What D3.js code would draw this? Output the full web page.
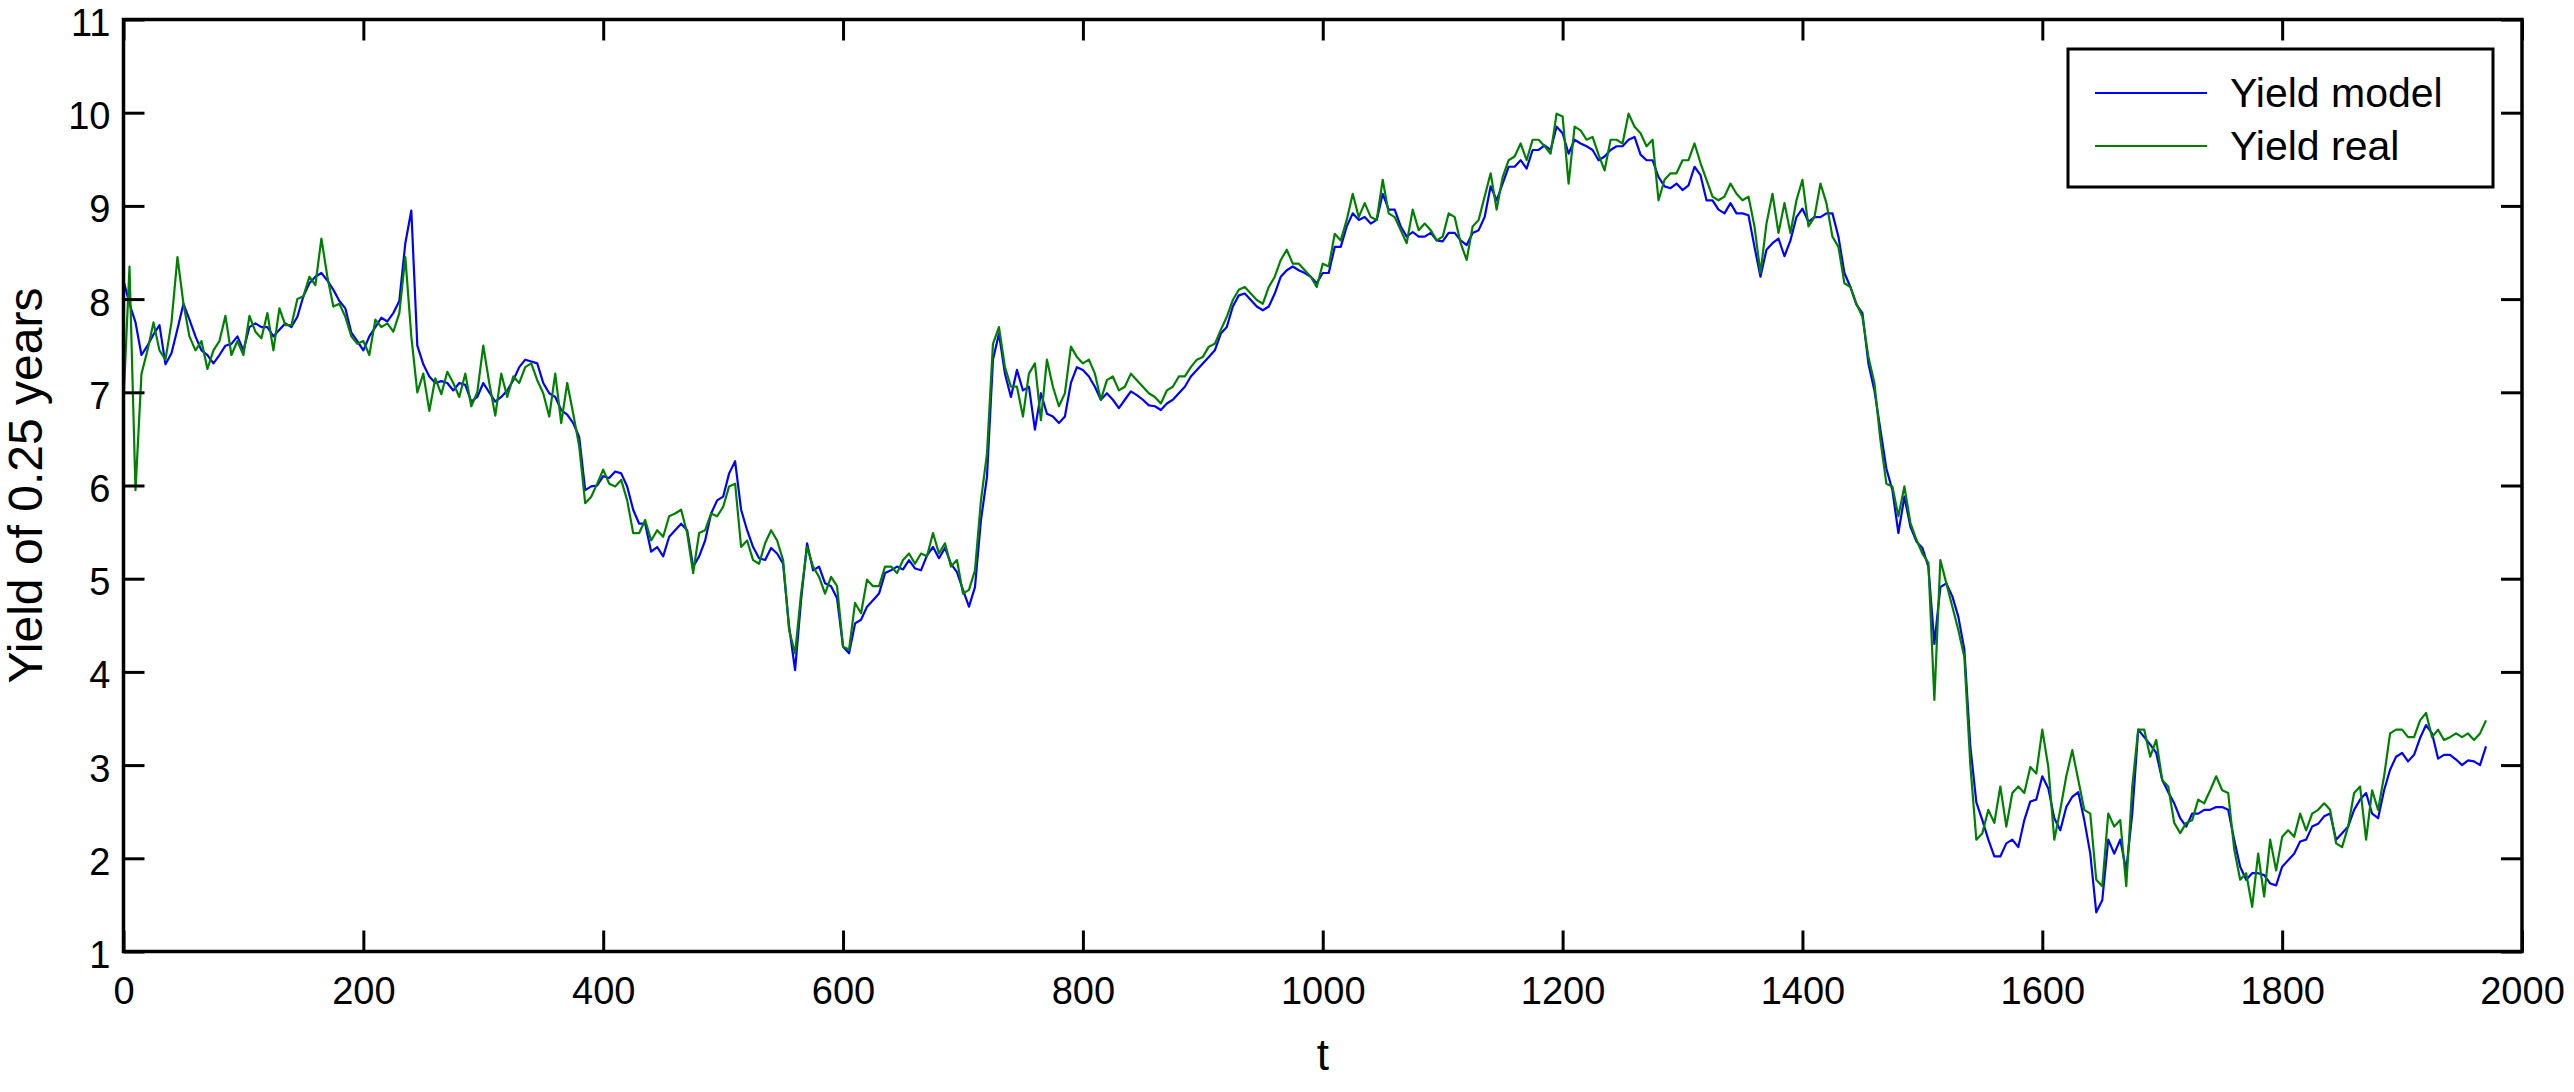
<!DOCTYPE html>
<html>
<head>
<meta charset="utf-8">
<script src="https://cdn.jsdelivr.net/npm/d3@7"></script>
<style>
  html, body { margin: 0; padding: 0; background: #fff; }
  svg { display: block; }
  text { font-family: "Liberation Sans", Arial, Helvetica, sans-serif; fill: #000; }
</style>
</head>
<body>
<svg id="chart" width="2574" height="1092"></svg>
<script>
// ---- data (t sampled every 5 steps) ----
const tStep = 5;
const seriesNames = ["Yield model", "Yield real"];
const xTicks = [0, 200, 400, 600, 800, 1000, 1200, 1400, 1600, 1800, 2000];
const yTicks = [1, 2, 3, 4, 5, 6, 7, 8, 9, 10, 11];

const yieldModel = [
  8.2, 7.95, 7.75, 7.4, 7.5, 7.62, 7.72, 7.3, 7.42, 7.68,
  7.95, 7.78, 7.6, 7.45, 7.4, 7.31, 7.4, 7.5, 7.52, 7.6,
  7.45, 7.7, 7.74, 7.7, 7.7, 7.6, 7.67, 7.74, 7.7, 7.81,
  8.03, 8.17, 8.24, 8.28, 8.2, 8.1, 7.98, 7.9, 7.64, 7.55,
  7.45, 7.6, 7.7, 7.8, 7.76, 7.85, 7.98, 8.6, 8.95, 7.5,
  7.3, 7.17, 7.1, 7.12, 7.1, 7.02, 7.1, 7.08, 6.9, 6.95,
  7.1, 7.0, 6.9,
  6.95, 7.02, 7.13, 7.27, 7.35, 7.33, 7.31, 7.1, 6.99, 6.95,
  6.81, 6.76, 6.67, 6.52, 5.95, 5.99, 6.0, 6.1, 6.08, 6.15,
  6.13, 5.99, 5.74, 5.59, 5.59, 5.29, 5.34, 5.24, 5.45, 5.52,
  5.59, 5.52, 5.13, 5.24, 5.41, 5.7, 5.84, 5.88, 6.13, 6.26,
  5.74, 5.52, 5.34, 5.22, 5.2, 5.33, 5.27, 5.16, 4.49, 4.02,
  4.77, 5.38, 5.09, 5.13, 4.95, 4.92, 4.79, 4.27, 4.2, 4.52,
  4.56, 4.7, 4.77, 4.84, 5.06, 5.09, 5.13, 5.1,
  5.2, 5.11, 5.09, 5.25, 5.34, 5.22, 5.33, 5.16, 5.07, 4.88,
  4.7, 4.91, 5.63, 6.09, 7.35, 7.63, 7.2, 6.95, 7.24, 7.02,
  7.06, 6.6, 6.99, 6.77, 6.74, 6.67, 6.74, 7.1, 7.27, 7.24,
  7.17, 7.06, 6.92, 6.99, 6.92, 6.83, 6.92, 7.01, 6.97, 6.92,
  6.86, 6.85, 6.81, 6.88, 6.92, 6.99, 7.06, 7.17, 7.24, 7.31,
  7.38, 7.45, 7.63, 7.7, 7.92, 8.04, 8.06, 7.99, 7.92, 7.88,
  7.92, 8.06, 8.24, 8.31, 8.35, 8.31, 8.28, 8.24, 8.17,
  8.28, 8.28, 8.56, 8.56, 8.78, 8.92, 8.85, 8.88, 8.81, 8.85,
  9.13, 8.96, 8.96, 8.78, 8.67, 8.72, 8.67, 8.67, 8.71, 8.63,
  8.62, 8.71, 8.71, 8.63, 8.58, 8.71, 8.74, 8.88, 9.21, 9.06,
  9.24, 9.42, 9.42, 9.49, 9.4, 9.6, 9.6, 9.65, 9.6, 9.85,
  9.78, 9.56, 9.71, 9.67, 9.64, 9.6, 9.49, 9.53, 9.6, 9.64,
  9.64, 9.71, 9.74, 9.55, 9.49, 9.49, 9.31, 9.21, 9.19, 9.24,
  9.17, 9.22, 9.42, 9.33, 9.06, 9.06, 8.96, 8.92,
  9.03, 8.92, 8.92, 8.9, 8.56, 8.24, 8.53, 8.6, 8.65, 8.46,
  8.63, 8.88, 8.97, 8.83, 8.88, 8.88, 8.92, 8.92, 8.67, 8.28,
  8.13, 7.94, 7.85, 7.31, 7.02, 6.6, 6.18, 5.95, 5.49, 5.88,
  5.56, 5.4, 5.33, 5.13, 4.3, 4.91, 4.95, 4.81, 4.59, 4.24,
  3.2, 2.6, 2.41, 2.2, 2.02, 2.02, 2.16, 2.2, 2.12, 2.41,
  2.61, 2.63, 2.88, 2.75, 2.43, 2.3, 2.55, 2.66, 2.71, 2.41,
  2.05, 1.42, 1.55, 2.2, 2.05, 2.2, 1.87, 2.48, 3.38, 3.3,
  3.22, 3.13, 2.84, 2.71, 2.59, 2.43, 2.34, 2.48, 2.48, 2.52,
  2.52, 2.55, 2.55, 2.52, 2.2,
  1.91, 1.77, 1.84, 1.84, 1.82, 1.73, 1.71, 1.91, 1.98, 2.05,
  2.18, 2.2, 2.34, 2.37, 2.45, 2.48, 2.2, 2.27, 2.34, 2.52,
  2.63, 2.7, 2.48, 2.43, 2.73, 2.95, 3.09, 3.13, 3.04, 3.11,
  3.29, 3.43, 3.34, 3.07, 3.11, 3.11, 3.06, 3.0, 3.05, 3.04,
  3.0, 3.2
];

const yieldReal = [
  6.9, 8.35, 5.95, 7.2, 7.45, 7.75, 7.45, 7.35, 7.75, 8.45,
  7.95, 7.6, 7.45, 7.55, 7.25, 7.45, 7.55, 7.82, 7.4, 7.55,
  7.4, 7.82, 7.65, 7.58, 7.85, 7.45, 7.9, 7.72, 7.72, 8.0,
  8.03, 8.24, 8.15, 8.65, 8.24, 7.92, 7.95, 7.81, 7.6, 7.52,
  7.55, 7.4, 7.78, 7.7, 7.74, 7.65, 7.85, 8.45, 7.6, 7.0,
  7.2, 6.8, 7.15, 6.98, 7.22, 7.1, 6.95, 7.2, 6.85, 7.0,
  7.5, 7.1, 6.75,
  7.2, 6.95, 7.17, 7.1, 7.27, 7.31, 7.13, 6.99, 6.74, 7.2,
  6.67, 7.1, 6.77, 6.42, 5.81, 5.88, 6.02, 6.17, 6.02, 5.99,
  6.06, 5.84, 5.49, 5.49, 5.63, 5.41, 5.52, 5.45, 5.67, 5.7,
  5.74, 5.49, 5.06, 5.49, 5.52, 5.7, 5.67, 5.77, 5.99, 6.02,
  5.34, 5.41, 5.2, 5.16, 5.38, 5.52, 5.41, 5.2, 4.45, 4.2,
  4.84, 5.34, 5.13, 5.02, 4.84, 5.02, 4.92, 4.27, 4.24, 4.74,
  4.63, 4.99, 4.92, 4.92, 5.13, 5.13, 5.06, 5.2,
  5.27, 5.16, 5.27, 5.24, 5.49, 5.27, 5.38, 5.13, 5.2, 4.84,
  4.88, 5.09, 5.84, 6.34, 7.52, 7.7, 7.27, 7.06, 7.06, 6.74,
  7.2, 7.31, 6.7, 7.35, 7.06, 6.85, 6.99, 7.49, 7.38, 7.31,
  7.35, 7.2, 6.92, 7.13, 7.17, 7.02, 7.06, 7.2, 7.13, 7.06,
  6.99, 6.95, 6.88, 7.02, 7.06, 7.17, 7.17, 7.27, 7.35, 7.38,
  7.49, 7.52, 7.67, 7.81, 7.99, 8.1, 8.13, 8.06, 7.99, 7.95,
  8.13, 8.24, 8.42, 8.53, 8.38, 8.38, 8.31, 8.24, 8.13,
  8.38, 8.35, 8.7, 8.63, 8.85, 9.13, 8.88, 9.03, 8.88, 8.85,
  9.28, 8.92, 8.88, 8.74, 8.6, 8.96, 8.74, 8.81, 8.74, 8.63,
  8.67, 8.92, 8.88, 8.6, 8.42, 8.78, 8.85, 9.1, 9.35, 8.96,
  9.31, 9.49, 9.53, 9.67, 9.49, 9.71, 9.71, 9.64, 9.56, 9.99,
  9.96, 9.24, 9.85, 9.81, 9.71, 9.74, 9.55, 9.38, 9.71, 9.71,
  9.67, 9.99, 9.85, 9.78, 9.64, 9.71, 9.06, 9.28, 9.35, 9.35,
  9.49, 9.49, 9.67, 9.46, 9.28, 9.1, 9.06, 9.1,
  9.24, 9.13, 9.06, 9.1, 8.78, 8.28, 8.81, 9.13, 8.71, 9.03,
  8.71, 9.06, 9.28, 8.78, 8.88, 9.24, 9.03, 8.67, 8.56, 8.17,
  8.13, 7.95, 7.81, 7.38, 7.1, 6.49, 6.02, 5.99, 5.67, 5.99,
  5.6, 5.42, 5.27, 5.17, 3.7, 5.2, 4.95, 4.7, 4.45, 4.16,
  3.0, 2.2, 2.27, 2.52, 2.38, 2.77, 2.34, 2.7, 2.77, 2.7,
  2.98, 2.91, 3.38, 2.98, 2.2, 2.52, 2.88, 3.16, 2.84, 2.52,
  2.48, 1.77, 1.7, 2.48, 2.34, 2.41, 1.7, 2.77, 3.38, 3.38,
  3.09, 3.27, 2.84, 2.77, 2.38, 2.27, 2.38, 2.41, 2.63, 2.59,
  2.73, 2.88, 2.73, 2.7, 2.1,
  1.77, 1.84, 1.48, 2.05, 1.59, 2.2, 1.87, 2.23, 2.3, 2.23,
  2.48, 2.3, 2.48, 2.52, 2.59, 2.52, 2.16, 2.12, 2.34, 2.7,
  2.77, 2.2, 2.73, 2.52, 2.88, 3.34, 3.38, 3.38, 3.3, 3.3,
  3.48, 3.56, 3.3, 3.38, 3.27, 3.3, 3.34, 3.3, 3.34, 3.27,
  3.34, 3.48
];

const seriesColors = ["#0000ff", "#008000"];

// ---- layout ----
const W = 2574, H = 1092;
const plot = { left: 123.5, right: 2522, top: 19.5, bottom: 951.5 };

const svg = d3.select("#chart");
svg.append("rect").attr("width", W).attr("height", H).attr("fill", "#fff");

const x = d3.scaleLinear().domain([0, 2000]).range([plot.left, plot.right]);
const y = d3.scaleLinear().domain([1, 11]).range([plot.bottom, plot.top]);

const line = d3.line()
  .x((d, i) => x(i * tStep))
  .y(d => y(d));

svg.append("clipPath").attr("id", "clip")
  .append("rect")
  .attr("x", plot.left).attr("y", plot.top)
  .attr("width", plot.right - plot.left).attr("height", plot.bottom - plot.top);

const gData = svg.append("g").attr("clip-path", "url(#clip)");
[yieldModel, yieldReal].forEach((s, k) => {
  gData.append("path")
    .datum(s)
    .attr("d", line)
    .attr("fill", "none")
    .attr("stroke", seriesColors[k])
    .attr("stroke-width", 2.2)
    .attr("stroke-linejoin", "round");
});

// ---- axes (box with inward ticks on all sides) ----
const tickLen = 21;
const fontSize = 38;

const axB = svg.append("g").attr("transform", `translate(0,${plot.bottom})`)
  .call(d3.axisBottom(x).tickValues(xTicks).tickSize(-tickLen).tickPadding(26).tickFormat(d3.format("d")));
const axT = svg.append("g").attr("transform", `translate(0,${plot.top})`)
  .call(d3.axisTop(x).tickValues(xTicks).tickSize(-tickLen).tickFormat(""));
const axL = svg.append("g").attr("transform", `translate(${plot.left},0)`)
  .call(d3.axisLeft(y).tickValues(yTicks).tickSize(-tickLen).tickPadding(13).tickFormat(d3.format("d")));
const axR = svg.append("g").attr("transform", `translate(${plot.right},0)`)
  .call(d3.axisRight(y).tickValues(yTicks).tickSize(-tickLen).tickFormat(""));

[axB, axT, axL, axR].forEach(g => {
  g.select(".domain").remove();
  g.selectAll(".tick line").attr("stroke", "#000").attr("stroke-width", 3);
  g.selectAll(".tick text")
    .attr("fill", "#000")
    .style("font-size", fontSize + "px")
    .style("font-family", "'Liberation Sans', Arial, sans-serif");
});
axL.selectAll(".tick text").attr("dy", "0.42em");

svg.append("rect")
  .attr("x", plot.left).attr("y", plot.top)
  .attr("width", plot.right - plot.left).attr("height", plot.bottom - plot.top)
  .attr("fill", "none").attr("stroke", "#000").attr("stroke-width", 3.5);

// ---- axis labels ----
svg.append("text")
  .attr("x", (plot.left + plot.right) / 2).attr("y", 1070)
  .attr("text-anchor", "middle")
  .style("font-size", "44px")
  .text("t");

svg.append("text")
  .attr("transform", `translate(42,${(plot.top + plot.bottom) / 2}) rotate(-90)`)
  .attr("text-anchor", "middle")
  .style("font-size", "48px")
  .text("Yield of 0.25 years");

// ---- legend ----
const lg = svg.append("g");
lg.append("rect")
  .attr("x", 2068).attr("y", 49).attr("width", 425).attr("height", 138)
  .attr("fill", "#fff").attr("stroke", "#000").attr("stroke-width", 3);
const legendRows = [93, 146];
seriesNames.forEach((name, k) => {
  lg.append("line")
    .attr("x1", 2095).attr("x2", 2207)
    .attr("y1", legendRows[k]).attr("y2", legendRows[k])
    .attr("stroke", seriesColors[k]).attr("stroke-width", 2);
  lg.append("text")
    .attr("x", 2230).attr("y", legendRows[k] + 14)
    .style("font-size", "41px")
    .text(name);
});
</script>
</body>
</html>
